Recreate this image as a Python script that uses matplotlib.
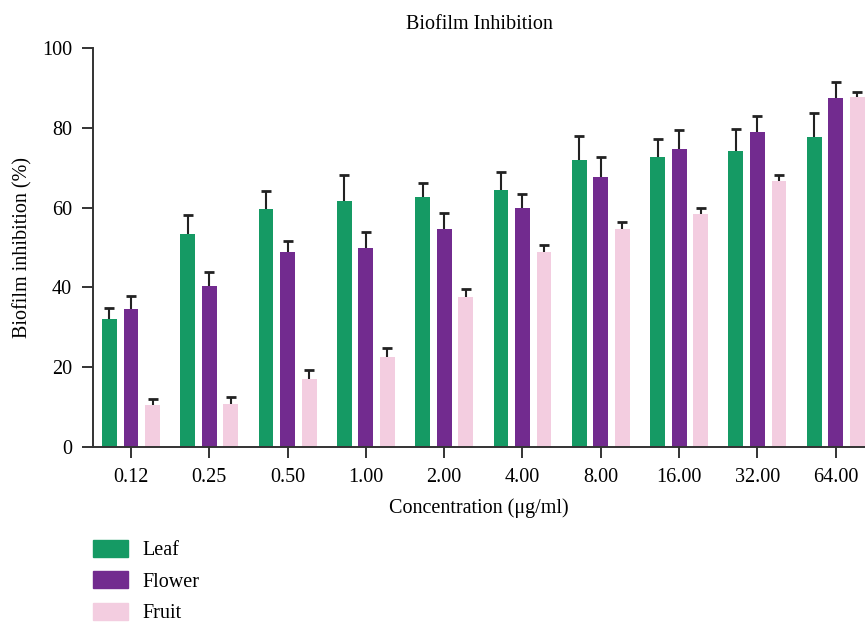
import matplotlib
matplotlib.use("Agg")
import matplotlib.pyplot as plt
import numpy as np
from matplotlib.patches import Patch

concentrations = ["0.12", "0.25", "0.50", "1.00", "2.00", "4.00", "8.00", "16.00", "32.00", "64.00"]
leaf = [32.0, 53.4, 59.7, 61.7, 62.7, 64.3, 71.9, 72.6, 74.2, 77.6]
leaf_err = [2.8, 4.8, 4.5, 6.5, 3.5, 4.7, 6.0, 4.6, 5.5, 6.0]
flower = [34.7, 40.3, 48.8, 49.8, 54.7, 59.8, 67.7, 74.6, 78.9, 87.5]
flower_err = [3.1, 3.6, 2.9, 4.1, 4.0, 3.5, 5.0, 4.8, 4.0, 4.0]
fruit = [10.6, 10.9, 17.0, 22.6, 37.6, 48.8, 54.6, 58.3, 66.7, 87.8]
fruit_err = [1.5, 1.7, 2.2, 2.3, 1.9, 1.9, 1.8, 1.7, 1.5, 1.2]

series = [
    ("Leaf", leaf, leaf_err, "#159a64"),
    ("Flower", flower, flower_err, "#722b8f"),
    ("Fruit", fruit, fruit_err, "#f3cde0"),
]

plt.rcParams["font.family"] = ["Liberation Serif", "DejaVu Serif"]
plt.rcParams["font.size"] = 14.5

figure = plt.figure(figsize=(8.65, 6.24), dpi=100)
axis = figure.add_axes([93 / 865, 1 - 447 / 624, 1 - 93 / 865, (447 - 48) / 624])

x = np.arange(len(concentrations))
width = 0.19
offset = 0.275
for i, (label, values, errors, color) in enumerate(series):
    positions = x + (i - 1) * offset
    values = np.asarray(values)
    tops = values + np.asarray(errors)
    # upper-only error bars, cap at the top
    axis.vlines(positions, values, tops, color="#222222", linewidth=1.5, zorder=1)
    axis.plot(positions, tops, linestyle="none", marker="_", markersize=7,
              markeredgewidth=2.0, color="#222222", zorder=1)
    axis.bar(positions, values, width=width, color=color, label=label, zorder=2)

axis.set_xlim(-0.485, 9.374)
axis.set_ylim(0, 100)
axis.set_yticks(np.arange(0, 101, 20))
axis.set_xticks(x)
axis.set_xticklabels(concentrations)
for side in ("top", "right"):
    axis.spines[side].set_visible(False)
for side in ("left", "bottom"):
    axis.spines[side].set_color("#333333")
    axis.spines[side].set_linewidth(1.4)
axis.tick_params(axis="both", direction="out", length=8, width=1.4, color="#333333", pad=7)
axis.set_xlabel("Concentration (μg/ml)", labelpad=8)
axis.set_ylabel("Biofilm inhibition (%)", labelpad=7)
axis.set_title("Biofilm Inhibition", pad=14, fontsize=14.5)

handles = [Patch(color=color) for _, _, _, color in series]
labels = [label for label, _, _, _ in series]
# legend sits below the axes, nudged up a little so the last entry stays inside the figure
figure.legend(
    handles,
    labels,
    loc="upper left",
    bbox_to_anchor=(85 / 865, 1 - 532 / 624),
    frameon=False,
    handlelength=1.75,
    handleheight=0.9,
    labelspacing=0.55,
    handletextpad=0.7,
    borderaxespad=0,
)

figure.savefig("out.png", dpi=100)
plt.close(figure)
